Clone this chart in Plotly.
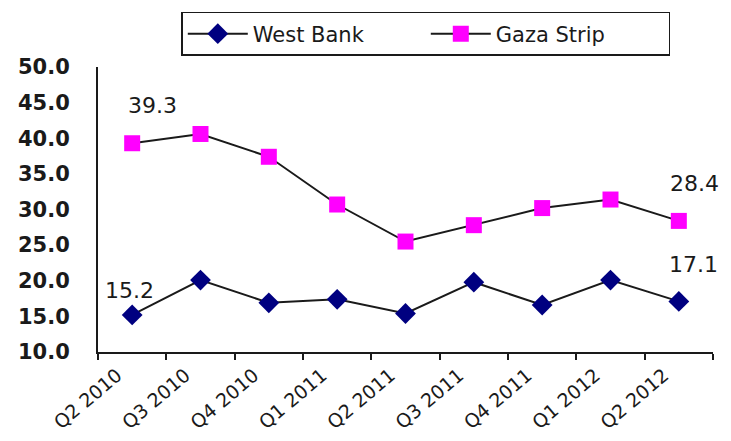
import plotly.graph_objects as go

quarters = ["Q2 2010", "Q3 2010", "Q4 2010", "Q1 2011", "Q2 2011",
            "Q3 2011", "Q4 2011", "Q1 2012", "Q2 2012"]
west_bank = [15.2, 20.1, 16.9, 17.4, 15.4, 19.8, 16.6, 20.1, 17.1]
gaza_strip = [39.3, 40.6, 37.4, 30.7, 25.5, 27.8, 30.2, 31.4, 28.4]
y_ticks = [10, 15, 20, 25, 30, 35, 40, 45, 50]

FONT = "DejaVu Sans, sans-serif"
INK = "#1a1a1a"

fig = go.Figure()
fig.add_trace(go.Scatter(
    x=quarters, y=west_bank, name="West Bank", mode="lines+markers",
    line=dict(color=INK, width=2),
    marker=dict(symbol="diamond", size=16, color="#000080", line=dict(width=0)),
))
fig.add_trace(go.Scatter(
    x=quarters, y=gaza_strip, name="Gaza Strip", mode="lines+markers",
    line=dict(color=INK, width=2),
    marker=dict(symbol="square", size=16, color="#FF00FF", line=dict(width=0)),
))

# data labels for first and last points
labels = [
    (quarters[0], gaza_strip[0], 20, 38),
    (quarters[-1], gaza_strip[-1], 16, 37),
    (quarters[0], west_bank[0], -3, 24),
    (quarters[-1], west_bank[-1], 15, 37),
]
for x, y, dx, dy in labels:
    fig.add_annotation(x=x, y=y, text=f"{y:.1f}", showarrow=False,
                       xshift=dx, yshift=dy,
                       font=dict(family=FONT, size=22, color=INK))

fig.update_layout(
    width=731, height=441,
    margin=dict(l=98, r=18, t=67, b=89, autoexpand=False),
    paper_bgcolor="white", plot_bgcolor="white",
    font=dict(family=FONT, size=19, color=INK),
    showlegend=True,
    legend=dict(
        orientation="h", x=0.533, xanchor="center", y=1.193, yanchor="top",
        bordercolor=INK, borderwidth=1.5, bgcolor="white",
        font=dict(family=FONT, size=21, color=INK),
        entrywidth=168, entrywidthmode="pixels",
        itemwidth=60,
    ),
)
fig.update_xaxes(
    type="category", range=[-0.5, len(quarters) - 0.5],
    showline=True, linecolor=INK, linewidth=2,
    ticks="outside", ticklen=6, tickcolor=INK, tickwidth=2,
    tickson="boundaries", tickangle=-40, showgrid=False, automargin=False,
    ticklabelshift=-15, ticklabelstandoff=3,
    tickfont=dict(family=FONT, size=19, color=INK),
)
fig.update_yaxes(
    range=[10, 50], tickvals=y_ticks, tickformat=".1f",
    showline=True, linecolor=INK, linewidth=2, automargin=False,
    ticks="", showgrid=False, zeroline=False, ticklabelstandoff=22,
    tickfont=dict(family=FONT, size=21, color=INK, weight="bold"),
)

fig.write_html(
    "out.html",
    config={"displayModeBar": False},
    post_script="document.body.style.margin='0';document.body.style.overflow='hidden';",
)
